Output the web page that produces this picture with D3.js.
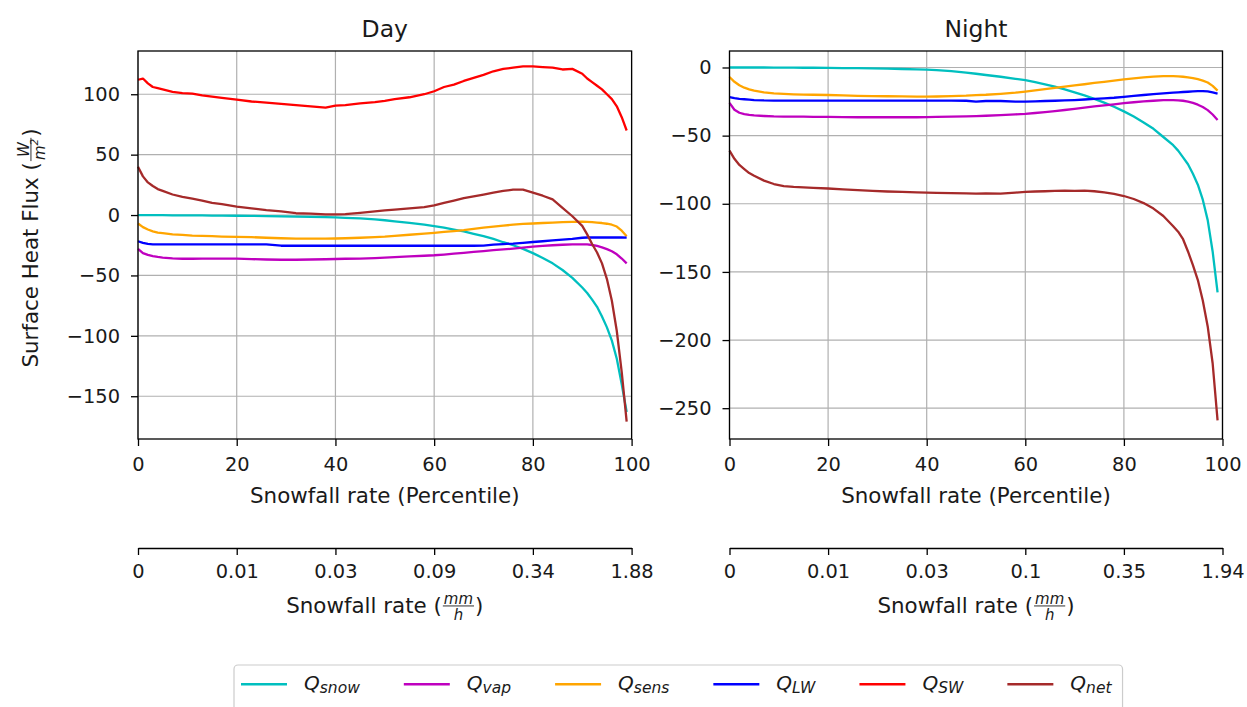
<!DOCTYPE html>
<html>
<head>
<meta charset="utf-8">
<script src="https://cdn.jsdelivr.net/npm/d3@7"></script>
<style>
  body { margin: 0; background: #fff; }
  svg { font-family: "DejaVu Sans", sans-serif; }
  text { fill: #1a1a1a; }
</style>
</head>
<body>
<script>
/*** global variables ***/
const width = 1247, height = 707;

// snowfall-rate percentile (x of every series)
const percentile = [0, 1, 2, 3, 4, 5, 7, 9, 11, 13, 15, 17, 20, 23, 26, 29, 32, 35, 38, 40,
  42, 45, 48, 50, 52, 55, 58, 60, 62, 64, 66, 68, 70, 72, 74, 76, 78, 80, 82, 84,
  86, 88, 90, 91, 92, 93, 94, 95, 96, 97, 98, 99];

// Day
const daySnow = [0, 0, 0, -0.1, -0.1, -0.1, -0.2, -0.2, -0.3, -0.3, -0.4, -0.5, -0.6, -0.7, -0.9, -1.1, -1.3, -1.5, -1.8, -2,
  -2.3, -2.8, -3.6, -4.3, -5.2, -6.5, -8, -9.2, -10.5, -12, -13.5, -15.5, -17.5, -19.8, -22.5, -25, -28, -31.5, -35.5, -40,
  -45.5, -52, -60, -64.5, -70, -76, -84, -93, -104, -119, -140, -163];
const dayVap = [-28, -31.5, -33, -34, -34.7, -35.2, -35.8, -36.2, -36.2, -36.1, -36, -36, -36.1, -36.5, -36.8, -37, -37, -36.8, -36.6, -36.4,
  -36.2, -36, -35.6, -35.3, -34.9, -34.3, -33.7, -33.3, -32.7, -32, -31.3, -30.5, -29.8, -29.1, -28.5, -27.8, -27, -26.2, -25.6, -25,
  -24.6, -24.3, -24.2, -24.3, -24.8, -25.6, -26.8, -28.2, -30, -32.5, -36, -40];
const daySens = [-7, -10, -12, -13.5, -14.5, -15, -16, -16.5, -17, -17.3, -17.5, -17.8, -18, -18.3, -18.8, -19.2, -19.5, -19.5, -19.5, -19.4,
  -19.2, -18.8, -18.2, -17.8, -17.2, -16.3, -15.3, -14.7, -14, -13.3, -12.5, -11.5, -10.5, -9.6, -8.8, -8, -7.3, -7, -6.6, -6.2,
  -5.8, -5.6, -5.5, -5.6, -5.9, -6.2, -6.6, -7.2, -8, -9.5, -13, -17.5];
const dayLW = [-21.7, -23, -23.8, -24.2, -24.2, -24.2, -24.2, -24.2, -24.2, -24.2, -24.2, -24.2, -24.2, -24.2, -24.3, -25.4, -25.4, -25.4, -25.4, -25.4,
  -25.4, -25.4, -25.4, -25.4, -25.4, -25.4, -25.4, -25.4, -25.4, -25.4, -25.4, -25.4, -25.3, -24.5, -24, -23.6, -23, -22.3, -21.7, -21,
  -20.3, -19.8, -18.8, -18.6, -18.6, -18.6, -18.6, -18.6, -18.6, -18.6, -18.6, -18.7];
const daySW = [112, 113, 109, 106, 105, 104, 102, 101, 100.5, 99, 98, 97, 95.5, 94, 93, 92, 91, 90, 89, 90.5,
  91, 92.5, 93.5, 94.5, 96, 97.5, 100, 102.5, 106, 108, 111, 113.5, 116, 119, 121, 122, 123, 123, 122.5, 122,
  120.5, 121, 117, 113, 110, 107, 104, 100, 96, 90, 81, 70];
const dayNet = [40, 32, 27, 24, 21.5, 20, 17, 15, 13.5, 12, 10, 9, 7, 5.5, 4, 3, 1.5, 1.2, 0.6, 0.5,
  0.8, 1.8, 3, 3.8, 4.5, 5.5, 6.5, 8, 10, 12, 14, 15.5, 17, 18.5, 20, 21, 21, 18.5, 16, 13,
  6, -1, -9, -16, -24, -31, -40, -53, -71, -96, -130, -171];

// Night (no shortwave line)
const nightSnow = [0, 0, 0, 0, 0, 0, 0, -0.1, -0.1, -0.1, -0.2, -0.2, -0.3, -0.4, -0.5, -0.7, -0.9, -1.1, -1.4, -1.6,
  -2, -2.7, -3.7, -4.6, -5.5, -6.8, -8.3, -9.3, -10.7, -12.3, -14, -16, -18.3, -20.5, -23, -25.8, -28.8, -32.2, -36, -40.3,
  -45, -51, -57, -61, -66, -71, -78, -86, -97, -112, -135, -165];
const nightVap = [-26, -31, -33.2, -34.2, -34.8, -35.2, -35.6, -35.9, -36, -36.1, -36.1, -36.2, -36.3, -36.4, -36.5, -36.5, -36.5, -36.5, -36.5, -36.4,
  -36.3, -36.1, -35.9, -35.7, -35.4, -34.9, -34.4, -34, -33.4, -32.7, -32, -31.2, -30.4, -29.5, -28.6, -27.8, -27, -26.2, -25.5, -24.9,
  -24.4, -24, -24, -24.1, -24.4, -25, -26, -27.3, -29, -31.3, -34.5, -38.5];
const nightSens = [-7, -10.5, -13, -14.8, -16, -17, -18.3, -19, -19.4, -19.7, -19.9, -20, -20.2, -20.5, -20.8, -21, -21.1, -21.2, -21.4, -21.4,
  -21.3, -21, -20.7, -20.3, -20, -19.3, -18.5, -17.7, -16.8, -15.9, -15, -14.1, -13.2, -12.3, -11.3, -10.5, -9.6, -8.7, -8, -7.3,
  -6.7, -6.3, -6.3, -6.5, -6.8, -7.2, -7.8, -8.6, -9.6, -11, -13.5, -17];
const nightLW = [-21.8, -22.5, -23, -23.3, -23.6, -23.9, -24.2, -24.3, -24.3, -24.3, -24.3, -24.3, -24.3, -24.3, -24.3, -24.3, -24.3, -24.3, -24.3, -24.3,
  -24.3, -24.3, -24.4, -25, -24.6, -24.6, -25, -25, -24.8, -24.6, -24.4, -24.2, -23.9, -23.5, -23.1, -22.7, -22.2, -21.5, -20.8, -20.2,
  -19.5, -19, -18.5, -18.2, -18, -17.8, -17.6, -17.4, -17.3, -17.6, -18.3, -19.2];
const nightNet = [-61, -67, -71.5, -74.5, -77.5, -79.5, -83, -85.5, -87, -87.6, -88, -88.4, -88.8, -89.5, -90, -90.6, -91, -91.3, -91.6, -91.8,
  -92, -92.2, -92.3, -92.6, -92.4, -92.6, -91.8, -91.3, -91, -90.8, -90.6, -90.4, -90.5, -90.4, -90.8, -91.7, -92.8, -94.3, -96.5, -99.5,
  -103.5, -109, -116.5, -120.5, -126, -135, -145, -156, -171, -190, -217, -259];

const seriesSubs = ["snow", "vap", "sens", "LW", "SW", "net"];
const seriesColors = ["#00bfbf", "#bf00bf", "#ffa500", "#0000ff", "#ff0000", "#a52a2a"];

const pctTicks = [0, 20, 40, 60, 80, 100];
const dayRateLabels = ["0", "0.01", "0.03", "0.09", "0.34", "1.88"];
const nightRateLabels = ["0", "0.01", "0.03", "0.1", "0.35", "1.94"];
const dayYTicks = [-150, -100, -50, 0, 50, 100];
const nightYTicks = [-250, -200, -150, -100, -50, 0];

const tickFont = 19.4, labelFont = 21.4, titleFont = 23.5;
const plotTop = 51, plotBottom = 439, rateAxisY = 548;

const svg = d3.select("body").append("svg")
  .attr("width", width)
  .attr("height", height);

/*** helper: label with a small fraction, centred on the group origin ***/
function fracLabel(g, before, num, den, denSup, after, fs) {
  const fs2 = fs * 0.7;
  const t0 = g.append("text").attr("font-size", fs).text(before);
  const tn = g.append("text").attr("font-size", fs2).attr("font-style", "italic").text(num);
  const td = g.append("text").attr("font-size", fs2).attr("font-style", "italic").text(den);
  if (denSup) td.append("tspan").attr("font-size", fs2 * 0.7).attr("dy", -fs2 * 0.45).text(denSup);
  const t1 = g.append("text").attr("font-size", fs).text(after);
  const w0 = t0.node().getComputedTextLength();
  const wn = tn.node().getComputedTextLength();
  const wd = td.node().getComputedTextLength();
  const w1 = t1.node().getComputedTextLength();
  const wf = Math.max(wn, wd) + 2;
  let x = -(w0 + wf + 2 + w1) / 2;
  t0.attr("x", x);
  x += w0 + 1;
  tn.attr("x", x + (wf - wn) / 2).attr("y", -fs * 0.44);
  td.attr("x", x + (wf - wd) / 2).attr("y", fs * 0.33);
  g.append("line")
    .attr("x1", x).attr("x2", x + wf)
    .attr("y1", -fs * 0.33).attr("y2", -fs * 0.33)
    .attr("stroke", "#1a1a1a").attr("stroke-width", 0.9);
  t1.attr("x", x + wf + 1);
}

/*** draw one panel ***/
function drawPanel(p) {
  const x = d3.scaleLinear().domain([0, 100]).range([p.left, p.right]);
  const y = d3.scaleLinear().domain(p.yDomain).range([plotBottom, plotTop]);
  const g = svg.append("g");

  // grid
  g.append("g").selectAll("line").data(pctTicks).join("line")
    .attr("x1", d => x(d)).attr("x2", d => x(d))
    .attr("y1", plotTop).attr("y2", plotBottom)
    .attr("stroke", "#b0b0b0").attr("stroke-width", 1.2);
  g.append("g").selectAll("line").data(p.yTicks).join("line")
    .attr("x1", p.left).attr("x2", p.right)
    .attr("y1", d => y(d)).attr("y2", d => y(d))
    .attr("stroke", "#b0b0b0").attr("stroke-width", 1.2);

  // lines
  const line = d3.line()
    .x((d, i) => x(percentile[i]))
    .y(d => y(d));
  g.append("g").selectAll("path").data(p.series).join("path")
    .attr("d", d => line(d.values))
    .attr("fill", "none")
    .attr("stroke", d => seriesColors[d.k])
    .attr("stroke-width", 2.3)
    .attr("stroke-linejoin", "round");

  // axes
  const xAxis = g.append("g")
    .attr("transform", `translate(0,${plotBottom})`)
    .call(d3.axisBottom(x).tickValues(pctTicks).tickSize(7).tickPadding(11).tickSizeOuter(0));
  const yAxis = g.append("g")
    .attr("transform", `translate(${p.left},0)`)
    .call(d3.axisLeft(y).tickValues(p.yTicks).tickSize(7).tickPadding(11).tickSizeOuter(0));
  [xAxis, yAxis].forEach(a => {
    a.select(".domain").remove();
    a.selectAll("line").attr("stroke", "#000").attr("stroke-width", 1.3);
    a.selectAll("text").attr("font-size", tickFont).attr("font-family", "DejaVu Sans").attr("fill", "#1a1a1a");
  });

  // spines
  g.append("rect")
    .attr("x", p.left).attr("y", plotTop)
    .attr("width", p.right - p.left).attr("height", plotBottom - plotTop)
    .attr("fill", "none").attr("stroke", "#000").attr("stroke-width", 1.3);

  // title and x label
  const cx = (p.left + p.right) / 2;
  g.append("text").attr("x", cx).attr("y", 36.5)
    .attr("text-anchor", "middle").attr("font-size", titleFont).text(p.title);
  g.append("text").attr("x", cx).attr("y", 503)
    .attr("text-anchor", "middle").attr("font-size", labelFont).text("Snowfall rate (Percentile)");

  // secondary axis: snowfall rate in mm/h
  const rAxis = g.append("g")
    .attr("transform", `translate(0,${rateAxisY})`)
    .call(d3.axisBottom(x).tickValues(pctTicks).tickFormat((d, i) => p.rateLabels[i])
      .tickSize(7).tickPadding(9).tickSizeOuter(0));
  rAxis.select(".domain").attr("stroke", "#000").attr("stroke-width", 1.3);
  rAxis.selectAll("line").attr("stroke", "#000").attr("stroke-width", 1.3);
  rAxis.selectAll("text").attr("font-size", tickFont).attr("font-family", "DejaVu Sans").attr("fill", "#1a1a1a");

  fracLabel(g.append("g").attr("transform", `translate(${cx},613)`),
    "Snowfall rate (", "mm", "h", null, ")", labelFont);
}

drawPanel({
  title: "Day", left: 138, right: 631.6,
  yDomain: [-185.4, 135.8], yTicks: dayYTicks, rateLabels: dayRateLabels,
  series: [daySnow, dayVap, daySens, dayLW, daySW, dayNet].map((values, k) => ({ values, k }))
});
drawPanel({
  title: "Night", left: 729.5, right: 1222.5,
  yDomain: [-272.6, 12.1], yTicks: nightYTicks, rateLabels: nightRateLabels,
  series: [[nightSnow, 0], [nightVap, 1], [nightSens, 2], [nightLW, 3], [nightNet, 5]]
    .map(([values, k]) => ({ values, k }))
});

// y label (rotated)
fracLabel(svg.append("g").attr("transform", "translate(38,248) rotate(-90)"),
  "Surface Heat Flux (", "W", "m", "2", ")", labelFont);

/*** legend ***/
const legend = svg.append("g");
const legendBox = legend.append("rect")
  .attr("x", 234).attr("y", 665).attr("rx", 4)
  .attr("height", 60)
  .attr("fill", "#fff").attr("fill-opacity", 0.8)
  .attr("stroke", "#cccccc").attr("stroke-width", 1.2);
let lx = 241;
seriesSubs.forEach((sub, k) => {
  legend.append("line")
    .attr("x1", lx).attr("x2", lx + 46)
    .attr("y1", 684.3).attr("y2", 684.3)
    .attr("stroke", seriesColors[k]).attr("stroke-width", 2.6);
  const t = legend.append("text")
    .attr("x", lx + 63).attr("y", 690)
    .attr("font-size", 20).attr("font-style", "italic");
  t.append("tspan").text("Q");
  t.append("tspan").attr("font-size", 15.5).attr("dy", 2.5).text(sub);
  lx += 63 + t.node().getComputedTextLength() + 44;
});
legendBox.attr("width", lx - 44 + 11 - 234);
</script>
</body>
</html>
